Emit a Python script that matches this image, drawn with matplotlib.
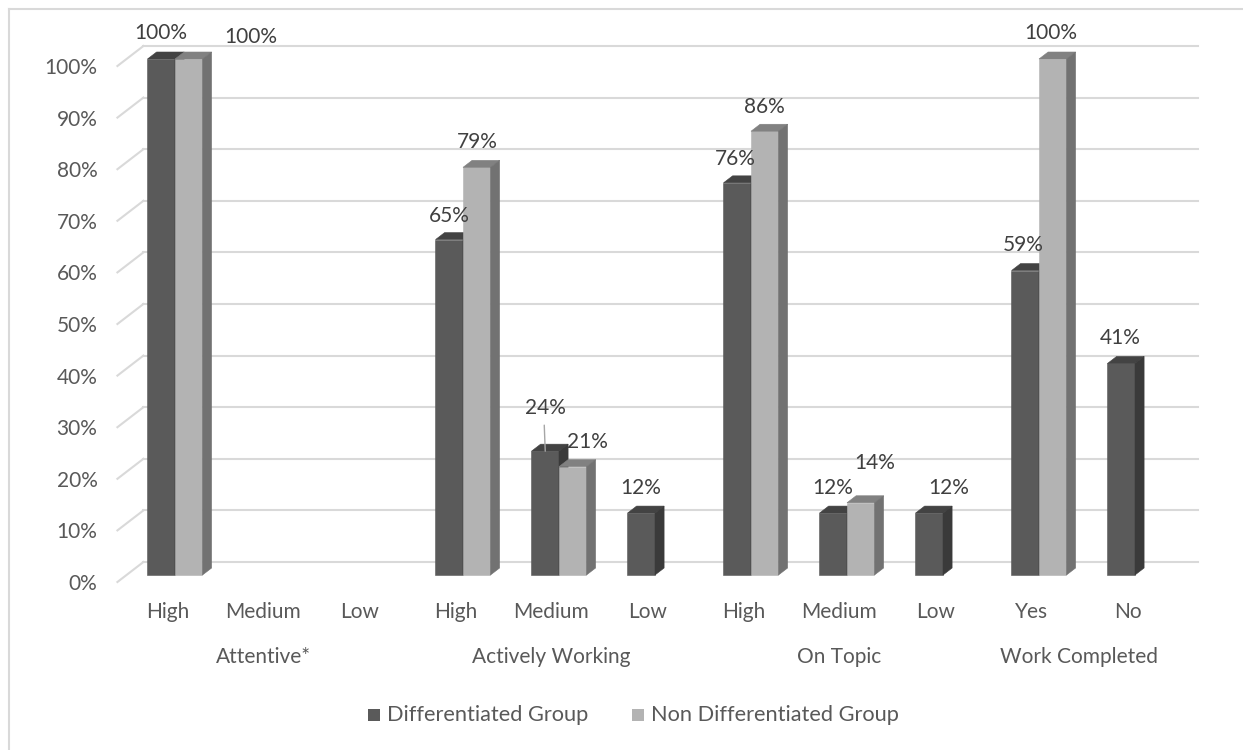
import matplotlib
matplotlib.use("Agg")
import matplotlib.pyplot as plt
from matplotlib.patches import Polygon, Rectangle
from matplotlib.lines import Line2D

# ---- data -------------------------------------------------------------
groups = ["Attentive*", "Actively Working", "On Topic", "Work Completed"]
levels = [["High", "Medium", "Low"],
          ["High", "Medium", "Low"],
          ["High", "Medium", "Low"],
          ["Yes", "No"]]
differentiated = [100, None, None, 65, 24, 12, 76, 12, 12, 59, 41]
non_differentiated = [100, None, None, 79, 21, None, 86, 14, None, 100, None]
series_names = ["Differentiated Group", "Non Differentiated Group"]
y_ticks = [0, 10, 20, 30, 40, 50, 60, 70, 80, 90, 100]

# ---- styling -----------------------------------------------------------
plt.rcParams["font.family"] = ["Lato", "DejaVu Sans"]
FS = 15
LEG_FS = 15.7
AXIS_TXT = "#595959"
LABEL_TXT = "#404040"
GRID = "#d9d9d9"
DARK = {"front": "#5a5a5a", "top": "#434343", "side": "#3a3a3a"}
LIGHT = {"front": "#b3b3b3", "top": "#818181", "side": "#727272"}

W, H = 1243, 750
fig = plt.figure(figsize=(W / 100, H / 100), dpi=100)
fig.patch.set_facecolor("white")

PX_X = 96.0          # pixels per category
PX_Y = 5.16          # pixels per percent
X0 = -0.6
ax = fig.add_axes([(175 + X0 * PX_X) / W, (H - 575) / H, 11.2 * PX_X / W, 100 * PX_Y / H])
ax.set_xlim(X0, X0 + 11.2)
ax.set_ylim(0, 100)
ax.axis("off")

# oblique depth: 1 px of depth moves 1.3 px right and 1 px up
def shift(x, y, d):
    return x + 1.3 * d / PX_X, y + d / PX_Y

FLOOR_L, FLOOR_R = -0.505, 10.48
WALL_D, FRONT_D, BAR_D = 13, -7, 7

# back wall and side wall gridlines
for t in y_ticks:
    xa, ya = shift(FLOOR_L, t, WALL_D)
    xb, yb = shift(FLOOR_R, t, WALL_D)
    ax.add_line(Line2D([xa, xb], [ya, yb], color=GRID, lw=1.5, clip_on=False, zorder=1))
    xf, yf = shift(FLOOR_L, t, FRONT_D)
    ax.add_line(Line2D([xf, xa], [yf, ya], color=GRID, lw=1.5, clip_on=False, zorder=1))
    ax.annotate(f"{t}%", xy=(xf, yf), xytext=(-20, -2), textcoords="offset pixels",
                ha="right", va="center", fontsize=FS, color=AXIS_TXT, annotation_clip=False)


def draw_bar(x0, x1, v, col, z):
    bl = (x0, 0); br = (x1, 0); tl = (x0, v); tr = (x1, v)
    btr = shift(x1, v, BAR_D); btl = shift(x0, v, BAR_D); bbr = shift(x1, 0, BAR_D)
    ax.add_patch(Polygon([bl, br, tr, tl], closed=True, fc=col["front"], ec=col["front"],
                         lw=0.4, clip_on=False, zorder=z))
    ax.add_patch(Polygon([tl, tr, btr, btl], closed=True, fc=col["top"], ec=col["top"],
                         lw=0.4, clip_on=False, zorder=z))
    ax.add_patch(Polygon([br, bbr, btr, tr], closed=True, fc=col["side"], ec=col["side"],
                         lw=0.4, clip_on=False, zorder=z))


BW = 27.5 / PX_X
d_off = [(0, 26), None, None, (0, 24), (0, 43), (-1, 25), (-2, 24), (-1, 25), (19, 25), (-2, 26), (-1, 25)]
n_off = [(62, 22), None, None, (1, 25), (15, 25), None, (0, 24), (14, 40), None, (-2, 26), None]

z = 2
for i, (dv, nv) in enumerate(zip(differentiated, non_differentiated)):
    if dv is not None:
        draw_bar(i - BW, i, dv, DARK, z)
        z += 1
        ax.annotate(f"{dv}%", xy=(i - BW / 2, dv), xytext=d_off[i], textcoords="offset pixels",
                    ha="center", va="center", fontsize=FS, color=LABEL_TXT,
                    annotation_clip=False, zorder=50)
        if d_off[i][1] > 35:
            ax.annotate("", xy=(i - BW / 2, dv), xytext=(-1, 26), textcoords="offset pixels",
                        arrowprops=dict(arrowstyle="-", color="#a6a6a6", lw=1,
                                        shrinkA=0, shrinkB=0, relpos=(0.5, 0.5)),
                        annotation_clip=False, zorder=49)
    if nv is not None:
        draw_bar(i, i + BW, nv, LIGHT, z)
        z += 1
        ax.annotate(f"{nv}%", xy=(i + BW / 2, nv), xytext=n_off[i], textcoords="offset pixels",
                    ha="center", va="center", fontsize=FS, color=LABEL_TXT,
                    annotation_clip=False, zorder=50)

# category axis: inner level and group level
idx = 0
for g, labs in zip(groups, levels):
    for lab in labs:
        ax.annotate(lab, xy=(idx, 0), xytext=(-7.5, -37), textcoords="offset pixels",
                    ha="center", va="center", fontsize=FS, color=AXIS_TXT, annotation_clip=False)
        idx += 1
    mid = idx - (len(labs) + 1) / 2
    ax.annotate(g, xy=(mid, 0), xytext=(-7.5, -82), textcoords="offset pixels",
                ha="center", va="center", fontsize=FS, color=AXIS_TXT, annotation_clip=False)

# legend, laid out from measured text widths and centred under the plot
renderer = fig.canvas.get_renderer()
SQ, GAP_IN, GAP_OUT = 12, 7, 44
LEG_CX, LEG_Y = 633.5, H - 715
texts = [fig.text(0, LEG_Y / H, name, ha="left", va="center", fontsize=LEG_FS, color=AXIS_TXT)
         for name in series_names]
widths = [t.get_window_extent(renderer).width for t in texts]
total = sum(SQ + GAP_IN + w for w in widths) + GAP_OUT * (len(widths) - 1)
x = LEG_CX - total / 2
for t, w, col in zip(texts, widths, [DARK, LIGHT]):
    fig.patches.append(Rectangle((x / W, (LEG_Y - SQ / 2) / H), SQ / W, SQ / H,
                                 transform=fig.transFigure, fc=col["front"], ec="none"))
    t.set_x((x + SQ + GAP_IN) / W)
    x += SQ + GAP_IN + w + GAP_OUT

# chart area border (left and top edges)
fig.add_artist(Line2D([9 / W, 9 / W], [0, (H - 9) / H], transform=fig.transFigure,
                      color=GRID, lw=1.5))
fig.add_artist(Line2D([9 / W, 1], [(H - 9) / H, (H - 9) / H], transform=fig.transFigure,
                      color=GRID, lw=1.5))

fig.savefig("out.png", dpi=100, facecolor="white")
